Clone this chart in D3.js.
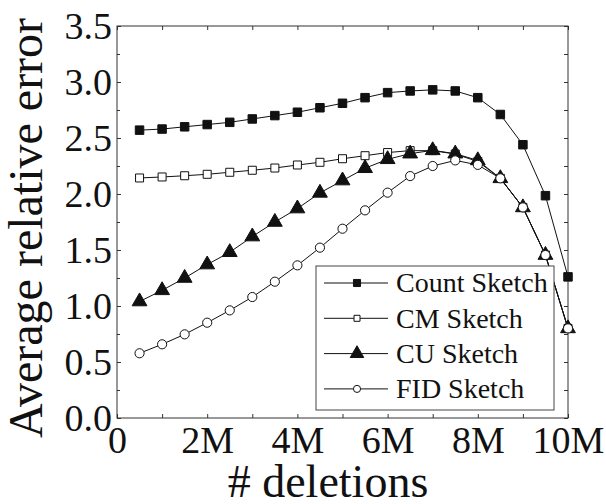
<!DOCTYPE html>
<html>
<head>
<meta charset="utf-8">
<script src="https://cdn.jsdelivr.net/npm/d3@7/dist/d3.min.js"></script>
<style>
  html, body { margin: 0; padding: 0; background: #fff; }
  svg { display: block; }
</style>
</head>
<body>
<svg id="chart" width="606" height="504"></svg>
<script>
// Deletions (millions) at which each sketch was measured
const deletions = [0.5, 1, 1.5, 2, 2.5, 3, 3.5, 4, 4.5, 5, 5.5, 6, 6.5, 7, 7.5, 8, 8.5, 9, 9.5, 10];

// Average relative error per sketch
const countSketch = [2.57, 2.58, 2.60, 2.62, 2.64, 2.67, 2.70, 2.73, 2.77, 2.81, 2.86, 2.905, 2.92, 2.93, 2.92, 2.86, 2.71, 2.44, 1.985, 1.26];
const cmSketch    = [2.143, 2.152, 2.163, 2.176, 2.194, 2.212, 2.232, 2.259, 2.283, 2.315, 2.342, 2.37, 2.387, 2.387, 2.357, 2.29, 2.14, 1.88, 1.455, 0.80];
const cuSketch    = [1.04, 1.14, 1.25, 1.37, 1.48, 1.62, 1.75, 1.87, 2.01, 2.12, 2.23, 2.31, 2.36, 2.39, 2.36, 2.30, 2.14, 1.88, 1.455, 0.80];
const fidSketch   = [0.578, 0.658, 0.747, 0.851, 0.961, 1.080, 1.217, 1.363, 1.521, 1.690, 1.854, 2.012, 2.16, 2.25, 2.30, 2.26, 2.14, 1.88, 1.455, 0.80];

const seriesNames = ["Count Sketch", "CM Sketch", "CU Sketch", "FID Sketch"];
const seriesValues = [countSketch, cmSketch, cuSketch, fidSketch];

const xTicks = [0, 2, 4, 6, 8, 10];
const xTickLabels = ["0", "2M", "4M", "6M", "8M", "10M"];
const yTicks = [0, 0.5, 1.0, 1.5, 2.0, 2.5, 3.0, 3.5];

const xTitle = "# deletions";
const yTitle = "Average relative error";

const FONT = "'Liberation Serif', 'Times New Roman', Tinos, 'DejaVu Serif', serif";

// marker style per series
const markers = [
  { type: d3.symbolSquare,   size: 72,  fill: "#111" },
  { type: d3.symbolSquare,   size: 64,  fill: "#fff" },
  { type: d3.symbolTriangle, size: 95,  fill: "#111" },
  { type: d3.symbolCircle,   size: 66,  fill: "#fff" }
];
const legendMarkers = [
  { type: d3.symbolSquare,   size: 50, fill: "#111" },
  { type: d3.symbolSquare,   size: 36, fill: "#fff" },
  { type: d3.symbolTriangle, size: 80, fill: "#111" },
  { type: d3.symbolCircle,   size: 40, fill: "#fff" }
];

const W = 606, H = 504;
const margin = { left: 117, top: 26, right: 38, bottom: 86 };
const iw = W - margin.left - margin.right;
const ih = H - margin.top - margin.bottom;

const svg = d3.select("#chart").attr("font-family", FONT);
const g = svg.append("g").attr("transform", `translate(${margin.left},${margin.top})`);

const x = d3.scaleLinear().domain([0, 10]).range([0, iw]);
const y = d3.scaleLinear().domain([0, 3.5]).range([ih, 0]);

const axisColor = "#333";

// bottom axis with labels
const xMinor = d3.range(0, 10.01, 1);
const bottom = g.append("g").attr("transform", `translate(0,${ih})`)
  .call(d3.axisBottom(x).tickValues(xMinor).tickSizeInner(-4).tickSizeOuter(0)
    .tickFormat(d => { const i = xTicks.indexOf(d); return i >= 0 ? xTickLabels[i] : ""; }))
  .call(a => a.select(".domain").remove());
bottom.selectAll("text").attr("font-size", 38).attr("dy", 0).attr("y", 35);

// top axis, ticks only
g.append("g")
  .call(d3.axisTop(x).tickValues(xMinor).tickSizeInner(-4).tickSizeOuter(0).tickFormat(""))
  .call(a => a.select(".domain").remove());

// left axis with labels and minor ticks
const yMinor = d3.range(0, 3.51, 0.25);
const left = g.append("g")
  .call(d3.axisLeft(y).tickValues(yMinor).tickSizeInner(-4).tickSizeOuter(0)
    .tickFormat(d => yTicks.some(t => Math.abs(t - d) < 1e-9) ? d3.format(".1f")(d) : ""))
  .call(a => a.select(".domain").remove());
left.selectAll("text").attr("font-size", 38).attr("x", -5).attr("dy", "0.32em");
left.selectAll(".tick line").attr("x2", d => yTicks.some(t => Math.abs(t - d) < 1e-9) ? 4 : 3);

// right axis, ticks only
g.append("g").attr("transform", `translate(${iw},0)`)
  .call(d3.axisRight(y).tickValues(yMinor).tickSizeInner(-4).tickSizeOuter(0).tickFormat(""))
  .call(a => a.select(".domain").remove());

g.selectAll(".tick line").attr("stroke", axisColor);
g.selectAll("g").attr("font-family", FONT);
g.selectAll(".tick text").attr("fill", "#111");

// plot frame
g.append("rect").attr("x", 0).attr("y", 0).attr("width", iw).attr("height", ih)
  .attr("fill", "none").attr("stroke", axisColor).attr("stroke-width", 1);

// series lines and markers
const line = d3.line().x((d, i) => x(deletions[i])).y(d => y(d));
seriesValues.forEach((vals, s) => {
  const sg = g.append("g").attr("class", "series");
  sg.append("path").datum(vals).attr("d", line)
    .attr("fill", "none").attr("stroke", "#111").attr("stroke-width", 1);
  sg.selectAll("path.mark").data(vals).join("path").attr("class", "mark")
    .attr("transform", (d, i) => `translate(${x(deletions[i])},${y(d)})`)
    .attr("d", d3.symbol().type(markers[s].type).size(markers[s].size))
    .attr("fill", markers[s].fill).attr("stroke", "#111").attr("stroke-width", 1);
});

// legend
const lg = svg.append("g").attr("transform", "translate(316,266)");
lg.append("rect").attr("x", 0).attr("y", 0).attr("width", 238).attr("height", 144)
  .attr("fill", "#fff").attr("stroke", "#444").attr("stroke-width", 1);
seriesNames.forEach((name, s) => {
  const cy = 17 + s * 35.3;
  lg.append("line").attr("x1", 8).attr("x2", 72).attr("y1", cy).attr("y2", cy)
    .attr("stroke", "#111").attr("stroke-width", 1);
  lg.append("path").attr("transform", `translate(41,${cy})`)
    .attr("d", d3.symbol().type(legendMarkers[s].type).size(legendMarkers[s].size))
    .attr("fill", legendMarkers[s].fill).attr("stroke", "#111").attr("stroke-width", 1);
  lg.append("text").attr("x", 80).attr("y", cy).attr("dy", "0.33em")
    .attr("font-size", 28).attr("fill", "#111").text(name);
});

// axis titles
svg.append("text").attr("x", 328).attr("y", 497).attr("text-anchor", "middle")
  .attr("font-size", 46).attr("fill", "#111").text(xTitle);
svg.append("text").attr("transform", "translate(42,228) rotate(-90)")
  .attr("text-anchor", "middle").attr("font-size", 48).attr("fill", "#111").text(yTitle);
</script>
</body>
</html>
